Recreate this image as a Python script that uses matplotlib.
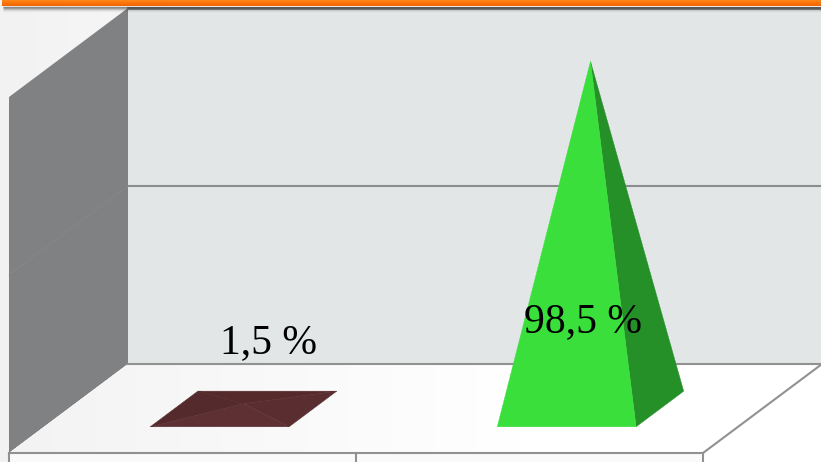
import numpy as np
import matplotlib
matplotlib.use("Agg")
import matplotlib.pyplot as plt
from matplotlib.patches import Polygon

categories = ["A", "B"]
values = [1.5, 98.5]
labels = ["1,5 %", "98,5 %"]
grid_values = [50, 100]

# layout of the fake 3D box, in pixels
W, H = 821, 462
X0, Y0 = 9, 453
CAT_W = 347
DX, DY = 119, -89
PX_PER_UNIT = 3.56
PYRAMID_SCALE = 3.53
HALF_W = 0.2
HALF_D = 0.2
PYRAMID_SHIFT = (1.5, 0.5)


def project(x, depth, value=0, scale=PX_PER_UNIT):
    """x in category units, depth 0-1 front to back, value in percent."""
    return (X0 + x * CAT_W + depth * DX, Y0 + depth * DY - value * scale)


def pyramid_point(x, depth, value=0):
    px, py = project(x, depth, value, PYRAMID_SCALE)
    return (px + PYRAMID_SHIFT[0], py + PYRAMID_SHIFT[1])


def gradient(ax, extent, c1, c2, zorder, clip=None):
    t = np.linspace(0, 1, 256).reshape(1, -1)
    rgb = np.array(matplotlib.colors.to_rgb(c1)) * (1 - t[..., None]) + np.array(matplotlib.colors.to_rgb(c2)) * t[..., None]
    im = ax.imshow(rgb, extent=extent, aspect="auto", zorder=zorder, interpolation="bilinear")
    if clip is not None:
        im.set_clip_path(clip)
    return im


fig = plt.figure(figsize=(W / 100, H / 100), dpi=100)
ax = fig.add_axes([0, 0, 1, 1])

# page background
gradient(ax, (0, 200, H, 0), "#f2f2f2", "#f8f8f8", 0)

# back wall
back = Polygon([project(0, 1), (W, project(0, 1)[1]), (W, project(0, 1, 100)[1]), project(0, 1, 100)],
               fc="#e2e6e7", ec="none", zorder=1)
ax.add_patch(back)

# left wall
ax.add_patch(Polygon([project(0, 0), project(0, 1), project(0, 1, 100), project(0, 0, 100)],
                     fc="#808183", ec="none", zorder=2))

# floor
floor = Polygon([project(0, 0), project(2, 0), project(2, 1), project(0, 1)], fc="white", ec="none", zorder=2)
ax.add_patch(floor)
gradient(ax, (9, 520, H, 360), "#f3f3f3", "#ffffff", 2, clip=floor)
ax.add_patch(Polygon([project(2, 0), (W, project(2, 0)[1]), (W, 364), project(2, 1)], fc="white", ec="none", zorder=1))
ax.add_patch(Polygon([project(0, 0), project(2, 0), (project(2, 0)[0], H), (project(0, 0)[0], H)], fc="#fafafa", ec="none", zorder=1))

# gridlines
for g in grid_values:
    x1, y1 = project(0, 1, g)
    lw = 2 if g == 100 else 1.5
    ax.plot([x1, W], [y1, y1], color="#8a8c8d", lw=lw, zorder=3)
    x0, y0 = project(0, 0, g)
    if g != 100:
        ax.plot([x0, x1], [y0, y1], color="#88898b", lw=0.5, zorder=3)

# floor edges and ticks
line = "#919191"
px, py = project(0, 1)
ax.plot([px, W], [py, py], color=line, lw=1.5, zorder=3)
ax.plot([project(0, 0)[0], project(2, 0)[0]], [Y0, Y0], color=line, lw=1.5, zorder=3)
ax.plot([project(2, 0)[0], project(2, 1)[0]], [Y0, project(2, 1)[1]], color=line, lw=1.5, zorder=3)
for i in range(len(categories) + 1):
    tx = project(i, 0)[0]
    ax.plot([tx, tx], [Y0, H], color=line, lw=1.5, zorder=3)

# pyramids
colors = [("#5e3033", "#5a2e30", "#552a2c", "#56292b"), ("#3adf3c", "#258f28", "#258f28", "#258f28")]
for i, v in enumerate(values):
    c = i + 0.5
    fl = pyramid_point(c - HALF_W, 0.5 - HALF_D)
    fr = pyramid_point(c + HALF_W, 0.5 - HALF_D)
    br = pyramid_point(c + HALF_W, 0.5 + HALF_D)
    bl = pyramid_point(c - HALF_W, 0.5 + HALF_D)
    apex = pyramid_point(c, 0.5, v)
    front, right, left, rear = colors[i]
    if v < 10:
        ax.add_patch(Polygon([bl, br, apex], fc=rear, ec=rear, lw=0.4, zorder=4))
        ax.add_patch(Polygon([bl, fl, apex], fc=left, ec=left, lw=0.4, zorder=4))
    ax.add_patch(Polygon([br, fr, apex], fc=right, ec=right, lw=0.3, zorder=5))
    ax.add_patch(Polygon([fl, fr, apex], fc=front, ec=front, lw=0.3, zorder=5))

# value labels
ax.text(268, 342.5, labels[0], fontsize=30, family="Liberation Serif", ha="center", va="center", color="black", zorder=6)
ax.text(583, 321.5, labels[1], fontsize=30, family="Liberation Serif", ha="center", va="center", color="black", zorder=6)

# shadow under the orange bar
for k, a in enumerate([0.4, 0.28, 0.16, 0.08, 0.03]):
    ax.plot([3, W], [7 + k, 7 + k], color="black", alpha=a, lw=1, zorder=6, solid_capstyle="butt")

# orange bar on top
t = np.linspace(0, 1, 16).reshape(-1, 1)
bar = np.array(matplotlib.colors.to_rgb("#ff8c1e")) * (1 - t[..., None]) + np.array(matplotlib.colors.to_rgb("#f46400")) * t[..., None]
ax.imshow(bar, extent=(2, W, 6.5, 0), aspect="auto", zorder=7)

ax.set_xlim(0, W)
ax.set_ylim(H, 0)
ax.axis("off")
fig.savefig("out.png", dpi=100)
